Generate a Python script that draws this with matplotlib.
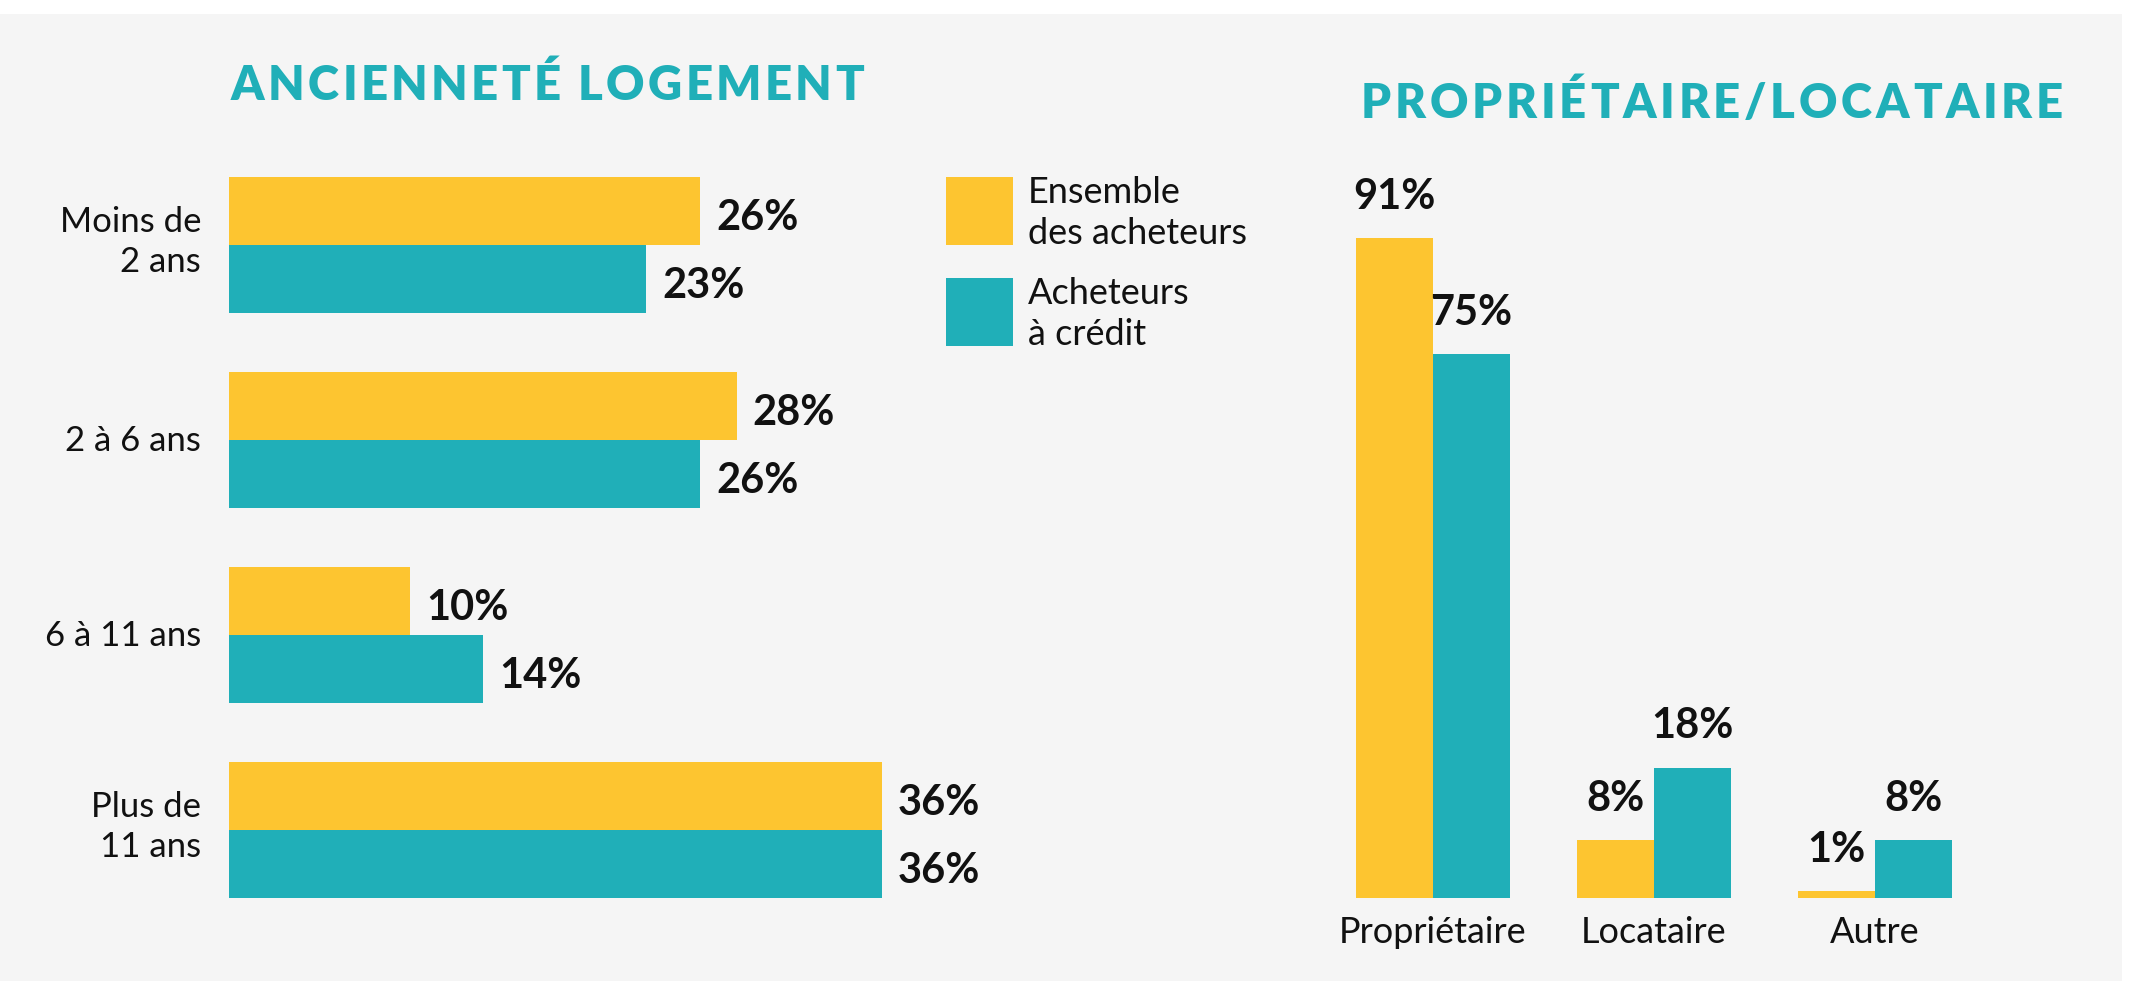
import matplotlib
matplotlib.use("Agg")
import matplotlib.pyplot as plt
from matplotlib.patches import Rectangle

# ---- data ----
age_categories = ["Moins de\n2 ans", "2 à 6 ans", "6 à 11 ans", "Plus de\n11 ans"]
age_all_buyers = [26, 28, 10, 36]
age_credit_buyers = [23, 26, 14, 36]

status_categories = ["Propriétaire", "Locataire", "Autre"]
status_all_buyers = [91, 8, 1]
status_credit_buyers = [75, 18, 8]

series_names = ["Ensemble\ndes acheteurs", "Acheteurs\nà crédit"]
left_title = "ANCIENNETÉ LOGEMENT"
right_title = "PROPRIÉTAIRE/LOCATAIRE"

# ---- style ----
YELLOW = "#FDC530"
TEAL = "#20AFB8"
PANEL = "#F5F5F5"
INK = "#111111"
FONT = "Lato"
plt.rcParams["font.family"] = [FONT, "DejaVu Sans"]

W, H = 2134, 981
DPI = 100
fig = plt.figure(figsize=(W / DPI, H / DPI), dpi=DPI)
fig.patch.set_facecolor("white")
renderer = fig.canvas.get_renderer()


def fig_rect(x0, y0, x1, y1):
    """Pixel box (top-left origin) -> figure fraction rect."""
    return [x0 / W, 1 - y1 / H, (x1 - x0) / W, (y1 - y0) / H]


def text_width(s, **kw):
    t = fig.text(0, 0, s, **kw)
    w = t.get_window_extent(renderer).width
    t.remove()
    return w


def tracked_text(x_px, y_px, s, tracking_px, **kw):
    """Draw a string with extra letter spacing, left edge at x_px (pixels)."""
    ref = text_width("|", **kw)
    for i, ch in enumerate(s):
        if ch == " ":
            continue
        offset = text_width(s[:i] + "|", **kw) - ref if i else 0.0
        fig.text((x_px + offset + i * tracking_px) / W, 1 - y_px / H, ch,
                 ha="left", va="center", **kw)


# grey panel behind everything
fig.add_artist(Rectangle((0, 0), 2122 / W, 1 - 14 / H, transform=fig.transFigure,
                         facecolor=PANEL, edgecolor="none", zorder=0))

LABEL_SIZE = 30
CAP = 0.72 * LABEL_SIZE * DPI / 72

# ---- left: horizontal grouped bars ----
px_per_pct = 18.13
group_step = 195.0
bar_h = 68.0 / group_step
ax_l = fig.add_axes(fig_rect(229, 150, 229 + 40 * px_per_pct, 930))
ax_l.set_xlim(0, 40)
ax_l.set_ylim((930 - 245) / group_step, (150 - 245) / group_step)
ypos = list(range(len(age_categories)))
b1 = ax_l.barh([y - bar_h / 2 for y in ypos], age_all_buyers, height=bar_h, color=YELLOW)
b2 = ax_l.barh([y + bar_h / 2 for y in ypos], age_credit_buyers, height=bar_h, color=TEAL)
for bars, vals in ((b1, age_all_buyers), (b2, age_credit_buyers)):
    for bar, v in zip(bars, vals):
        ax_l.annotate(f"{v}%", (v, bar.get_y() + bar.get_height() / 2),
                      xytext=(16, -(CAP / 2 + 4)), textcoords="offset pixels",
                      ha="left", va="baseline", fontsize=LABEL_SIZE,
                      fontweight="bold", color=INK)
# category names, right-aligned left of the bars
for y, name in zip(ypos, age_categories):
    multi = "\n" in name
    ax_l.annotate(name, (0, y), xycoords=("axes fraction", "data"),
                  xytext=(-28, 3 if multi else -1), textcoords="offset pixels",
                  ha="right", va="center", multialignment="right",
                  fontsize=25, color=INK, linespacing=1.3)
ax_l.set_yticks([])
ax_l.set_xticks([])
for s in ax_l.spines.values():
    s.set_visible(False)
ax_l.patch.set_visible(False)

# ---- right: vertical grouped bars ----
px_per_pct_v = 7.25
col_step = 221.0
bar_w = 77.0 / col_step
ax_r = fig.add_axes(fig_rect(1300, 150, 2100, 898))
ax_r.set_xlim((1300 - 1433) / col_step, (2100 - 1433) / col_step)
ax_r.set_ylim(0, (898 - 150) / px_per_pct_v)
xpos = list(range(len(status_categories)))
c1 = ax_r.bar([x - bar_w / 2 for x in xpos], status_all_buyers, width=bar_w, color=YELLOW)
c2 = ax_r.bar([x + bar_w / 2 for x in xpos], status_credit_buyers, width=bar_w, color=TEAL)
for bars, vals in ((c1, status_all_buyers), (c2, status_credit_buyers)):
    for bar, v in zip(bars, vals):
        ax_r.annotate(f"{v}%", (bar.get_x() + bar.get_width() / 2, v),
                      xytext=(0, 44 - CAP / 2), textcoords="offset pixels",
                      ha="center", va="baseline", fontsize=LABEL_SIZE,
                      fontweight="bold", color=INK)
ax_r.set_xticks(xpos)
ax_r.set_xticklabels(status_categories, fontsize=26, color=INK)
ax_r.tick_params(axis="x", length=0, pad=13)
ax_r.set_yticks([])
for s in ax_r.spines.values():
    s.set_visible(False)
ax_r.patch.set_visible(False)

# ---- titles ----
title_kw = dict(fontsize=34, fontweight="heavy", color=TEAL)
tracked_text(231, 86, left_title, 3.3, **title_kw)
tracked_text(1361, 104, right_title, 3.7, **title_kw)

# ---- legend ----
for (top, color, label) in ((177, YELLOW, series_names[0]), (278, TEAL, series_names[1])):
    fig.add_artist(Rectangle((946 / W, 1 - (top + 68) / H), 67 / W, 68 / H,
                             transform=fig.transFigure, facecolor=color,
                             edgecolor="none"))
    fig.text(1028 / W, 1 - (top + 36) / H, label, ha="left", va="center",
             fontsize=26, color=INK, linespacing=1.3)

fig.savefig("out.png", dpi=DPI, facecolor=fig.get_facecolor())
